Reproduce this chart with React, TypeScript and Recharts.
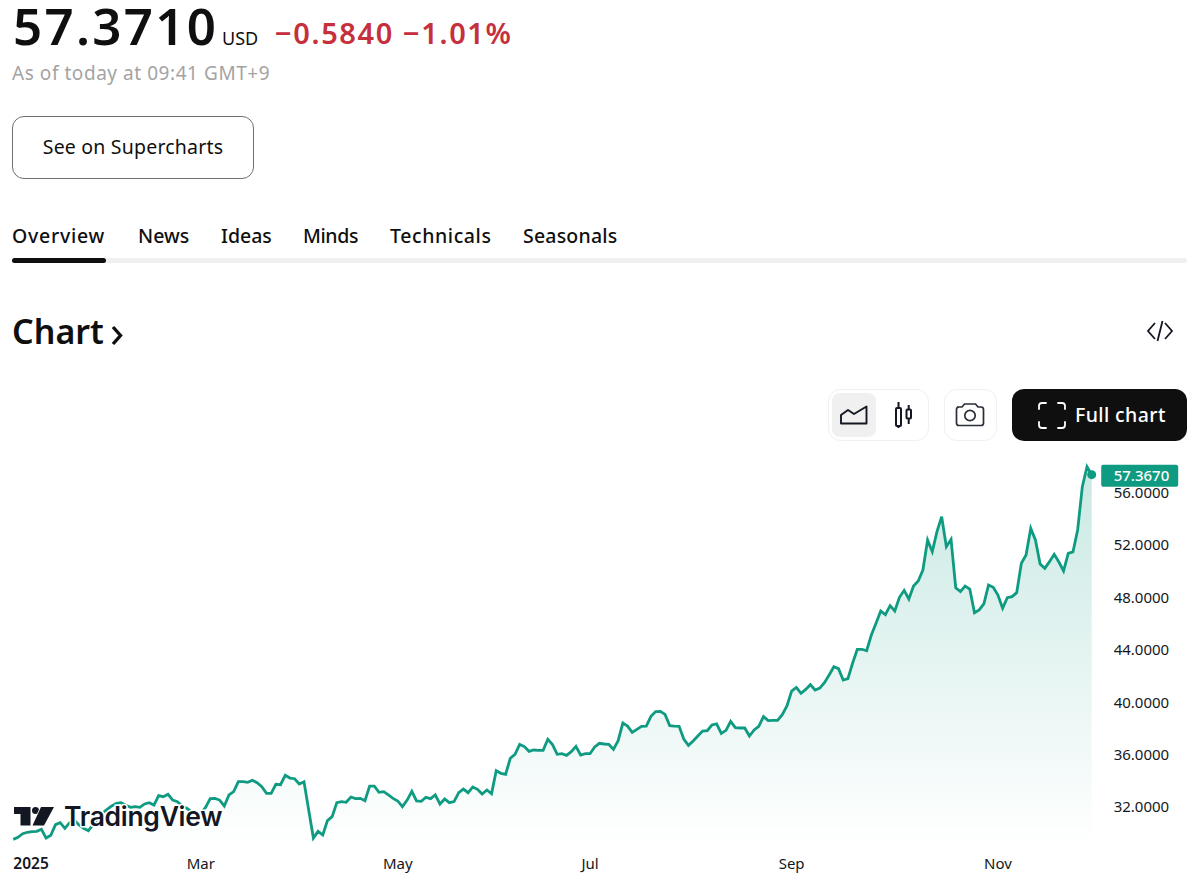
import React from "react";
import { AreaChart, Area, XAxis, YAxis, ReferenceDot } from "recharts";

const FONT = "'Noto Sans', sans-serif";
const TEAL = "#0f9b81";

const closes: number[] = [
  29.53, 29.68, 29.96, 30.07, 30.12, 30.14, 30.30, 29.63, 29.84, 30.65, 30.80, 30.37,
  30.80, 31.01, 30.63, 30.37, 30.19, 30.63, 31.13, 31.52, 31.82, 32.08, 32.28, 32.33,
  32.13, 31.97, 32.03, 31.97, 32.23, 32.33, 32.15, 32.87, 32.79, 32.97, 32.53, 32.41,
  32.08, 31.90, 31.64, 31.39, 31.52, 31.97, 32.64, 32.66, 32.53, 32.08, 32.92, 33.17,
  33.93, 33.93, 33.88, 34.04, 33.86, 33.55, 33.04, 33.04, 33.73, 33.70, 34.42, 34.21,
  34.16, 33.76, 33.93, 31.77, 29.63, 30.14, 29.86, 30.96, 31.26, 32.33, 32.41, 32.36,
  32.76, 32.64, 32.66, 32.48, 33.60, 33.60, 33.12, 33.17, 32.92, 32.66, 32.46, 32.03,
  32.53, 33.20, 32.46, 32.43, 32.74, 32.64, 32.92, 32.23, 32.61, 32.33, 32.41, 33.09,
  33.37, 33.09, 33.53, 33.35, 32.99, 33.30, 33.02, 34.77, 34.57, 34.49, 35.72, 36.02,
  36.78, 36.61, 36.25, 36.35, 36.33, 36.33, 37.17, 36.76, 36.02, 36.07, 35.94, 36.22,
  36.63, 35.97, 36.07, 36.07, 36.58, 36.86, 36.81, 36.78, 36.40, 37.06, 38.41, 38.18,
  37.70, 37.93, 38.16, 38.18, 38.92, 39.28, 39.30, 39.07, 38.21, 38.18, 38.16, 37.19,
  36.71, 37.04, 37.42, 37.80, 37.83, 38.26, 38.34, 37.62, 37.85, 38.54, 38.06, 38.03,
  38.03, 37.42, 37.88, 38.16, 38.90, 38.59, 38.62, 38.62, 39.05, 39.71, 40.85, 41.13,
  40.68, 40.98, 41.34, 40.93, 41.08, 41.49, 42.08, 42.71, 42.56, 41.69, 41.80, 42.97,
  44.04, 44.04, 43.93, 45.13, 46.02, 46.96, 46.68, 47.37, 46.96, 48.01, 48.54, 47.88,
  48.87, 49.25, 50.09, 52.38, 51.49, 53.02, 54.16, 51.87, 52.43, 48.74, 48.44, 48.87,
  48.64, 46.83, 47.04, 47.50, 48.95, 48.77, 48.18, 47.17, 47.98, 48.06, 48.36, 50.60,
  51.24, 53.27, 52.38, 50.55, 50.22, 50.73, 51.29, 50.70, 50.02, 51.36, 51.47, 53.15,
  56.45, 57.98, 57.367,
];
const priceTicks: number[] = [32, 36, 40, 44, 48, 52, 56];
const monthLabels: string[] = ["2025", "Mar", "May", "Jul", "Sep", "Nov"];
const monthPositions: number[] = [0, 40, 82, 123, 166, 210];
const tabs: string[] = ["Overview", "News", "Ideas", "Minds", "Technicals", "Seasonals"];
const tabLefts: number[] = [12, 138, 221, 303, 390, 523];
const tabSpacings: number[] = [0.75, 0, 0, -0.4, 0.6, 0.2];

const chartData = closes.map((close, i) => ({ i, close }));
const lastIndex = closes.length - 1;
const lastClose = closes[lastIndex];

const abs = (left: number, top: number, extra: React.CSSProperties = {}): React.CSSProperties => ({
  position: "absolute",
  left,
  top,
  whiteSpace: "nowrap",
  fontFamily: FONT,
  ...extra,
});

function MonthTick(props: any) {
  const { x, y, payload } = props;
  const pos = monthPositions.indexOf(payload.value);
  const first = pos === 0;
  return (
    <text
      x={x}
      y={y + 15}
      textAnchor={first ? "start" : "middle"}
      fontFamily={FONT}
      fontSize={first ? 15.5 : 15}
      fontWeight={first ? 600 : 400}
      fill="#131722"
    >
      {monthLabels[pos]}
    </text>
  );
}

function LastPriceMark(props: any) {
  const { cx, cy } = props;
  return (
    <g>
      <circle cx={cx} cy={cy} r={4.5} fill={TEAL} />
      <rect x={cx + 9.5} y={cy - 10} width={77} height={22} rx={2} fill={TEAL} />
      <text x={cx + 22} y={cy + 6.5} fontFamily={FONT} fontSize={15} fontWeight={500} fill="#ffffff">
        {lastClose.toFixed(4)}
      </text>
    </g>
  );
}

function Icons() {
  return (
    <svg width={1200} height={881} style={{ position: "absolute", left: 0, top: 0 }}>
      <g fill="none" stroke="#131722" strokeWidth={1.8}>
        <path d="M1155 323 L1148 331 L1155 339" />
        <path d="M1165 323 L1172 331 L1165 339" />
        <path d="M1162.5 321 L1157.5 341" />
      </g>
      <rect x={828.5} y={389.5} width={100} height={51} rx={12} fill="#fff" stroke="#f0f0f0" />
      <rect x={832} y={393} width={44} height={44} rx={8} fill="#f0f0f0" />
      <path d="M841 423.5 V415 L848 410 L854 414 L866.5 406.5 V423.5 Z" fill="none" stroke="#131722" strokeWidth={1.9} strokeLinejoin="round" />
      <g fill="none" stroke="#131722" strokeWidth={2}>
        <rect x={896} y={408} width={5} height={18} rx={1} />
        <path d="M898.5 402 V408 M898.5 426 V428" />
        <rect x={906.5} y={409.5} width={4.5} height={9} rx={1} />
        <path d="M908.7 405 V409.5 M908.7 418.5 V424" />
      </g>
      <rect x={944.5} y={389.5} width={52} height={51} rx={12} fill="#fff" stroke="#f0f0f0" />
      <g fill="none" stroke="#2a2e39" strokeWidth={1.7}>
        <path d="M957 407 H962 L964.5 404 H975.5 L978 407 H981 Q983.5 407 983.5 409.5 V423 Q983.5 425.5 981 425.5 H959 Q956.5 425.5 956.5 423 V409.5 Q956.5 407 959 407 Z" />
        <circle cx={970} cy={415.5} r={5.2} />
      </g>
      <rect x={1012} y={389} width={175} height={52} rx={12} fill="#0f0f0f" />
      <g fill="none" stroke="#ffffff" strokeWidth={1.8} strokeLinecap="round">
        <path d="M1039 409 V406 Q1039 403 1042 403 H1046" />
        <path d="M1058 403 H1062 Q1065 403 1065 406 V409" />
        <path d="M1039 422 V425 Q1039 428 1042 428 H1046" />
        <path d="M1058 428 H1062 Q1065 428 1065 425 V422" />
      </g>
      <path d="M113 327 L120.5 335.5 L113 344" fill="none" stroke="#0f0f0f" strokeWidth={3.4} />
    </svg>
  );
}

function Logo() {
  return (
    <svg width={240} height={50} viewBox="0 790 240 50" style={{ position: "absolute", left: 0, top: 790 }}>
      <g fill="#131722" stroke="#ffffff" strokeWidth={1.5} paintOrder="stroke">
        <path d="M14 807 H30.5 V825.5 H20.5 V814 H14 Z" />
        <circle cx={35.5} cy={810.5} r={3.5} />
        <path d="M41 807 H54 L44 825.5 H32.5 Z" />
        <text
          x={64}
          y={825.5}
          fontFamily="Inter, sans-serif"
          fontSize={26.5}
          fontWeight={600}
          strokeWidth={3}
          letterSpacing={-0.3}
        >
          TradingView
        </text>
      </g>
    </svg>
  );
}

export default function App() {
  return (
    <div style={{ position: "absolute", left: 0, top: 0, width: 1200, height: 881, overflow: "hidden", background: "#fff" }}>
      <div style={abs(13, 0, { fontSize: 51, fontWeight: 600, letterSpacing: 2.3, color: "#0f0f0f", lineHeight: "50px" })}>57.3710</div>
      <div style={abs(222, 25, { fontSize: 18, color: "#0f0f0f", lineHeight: "26px" })}>USD</div>
      <div style={abs(275, 13, { fontSize: 29, fontWeight: 600, color: "#c5303c", lineHeight: "40px", letterSpacing: 1.6 })}>−0.5840 −1.01%</div>
      <div style={abs(12, 60, { fontSize: 19, color: "#a3a3a3", lineHeight: "26px", letterSpacing: 0.55 })}>As of today at 09:41 GMT+9</div>

      <div style={{ position: "absolute", left: 12, top: 116, width: 240, height: 61, border: "1px solid #707070", borderRadius: 12 }} />
      <div style={abs(12, 116, { width: 242, height: 63, lineHeight: "62px", textAlign: "center", fontSize: 19.5, color: "#0f0f0f", letterSpacing: 0.2 })}>See on Supercharts</div>

      {tabs.map((tab, k) => (
        <div key={tab} style={abs(tabLefts[k], 222, { fontSize: 19.5, fontWeight: 500, color: "#0f0f0f", lineHeight: "28px", letterSpacing: tabSpacings[k] })}>{tab}</div>
      ))}
      <div style={{ position: "absolute", left: 12, top: 258, width: 1175, height: 5, background: "#f0f0f0", borderRadius: 3 }} />
      <div style={{ position: "absolute", left: 12, top: 258, width: 94, height: 5, background: "#0f0f0f", borderRadius: 3 }} />

      <div style={abs(12, 307, { fontSize: 34, fontWeight: 600, color: "#0f0f0f", lineHeight: "48px" })}>Chart</div>
      <Icons />
      <div style={abs(1075, 401, { fontSize: 19.5, fontWeight: 500, color: "#ffffff", lineHeight: "28px", letterSpacing: 0.4 })}>Full chart</div>

      <div style={{ position: "absolute", left: 0, top: 440 }}>
        <AreaChart
          width={1200}
          height={441}
          data={chartData}
          margin={{ top: 19.85, right: 0, bottom: 0, left: 13.3 }}
        >
          <defs>
            <linearGradient id="areaFill" x1="0" y1="0" x2="0" y2="1">
              <stop offset="0%" stopColor="#089981" stopOpacity={0.36} />
              <stop offset="100%" stopColor="#089981" stopOpacity={0} />
            </linearGradient>
          </defs>
          <XAxis
            dataKey="i"
            type="number"
            domain={[0, lastIndex]}
            ticks={monthPositions}
            interval={0}
            height={34.7}
            axisLine={false}
            tickLine={false}
            tick={<MonthTick />}
          />
          <YAxis
            orientation="right"
            type="number"
            width={108.3}
            domain={[29, 58.5]}
            ticks={priceTicks}
            interval={0}
            axisLine={false}
            tickLine={false}
            tickSize={0}
            tickMargin={22}
            tickFormatter={(v: number) => v.toFixed(4)}
            tick={{ fontFamily: FONT, fontSize: 15, fill: "#131722" }}
          />
          <Area
            type="linear"
            dataKey="close"
            stroke={TEAL}
            strokeWidth={2.8}
            fill="url(#areaFill)"
            isAnimationActive={false}
            dot={false}
            activeDot={false}
          />
          <ReferenceDot x={lastIndex} y={lastClose} shape={<LastPriceMark />} />
        </AreaChart>
      </div>
      <Logo />
    </div>
  );
}
